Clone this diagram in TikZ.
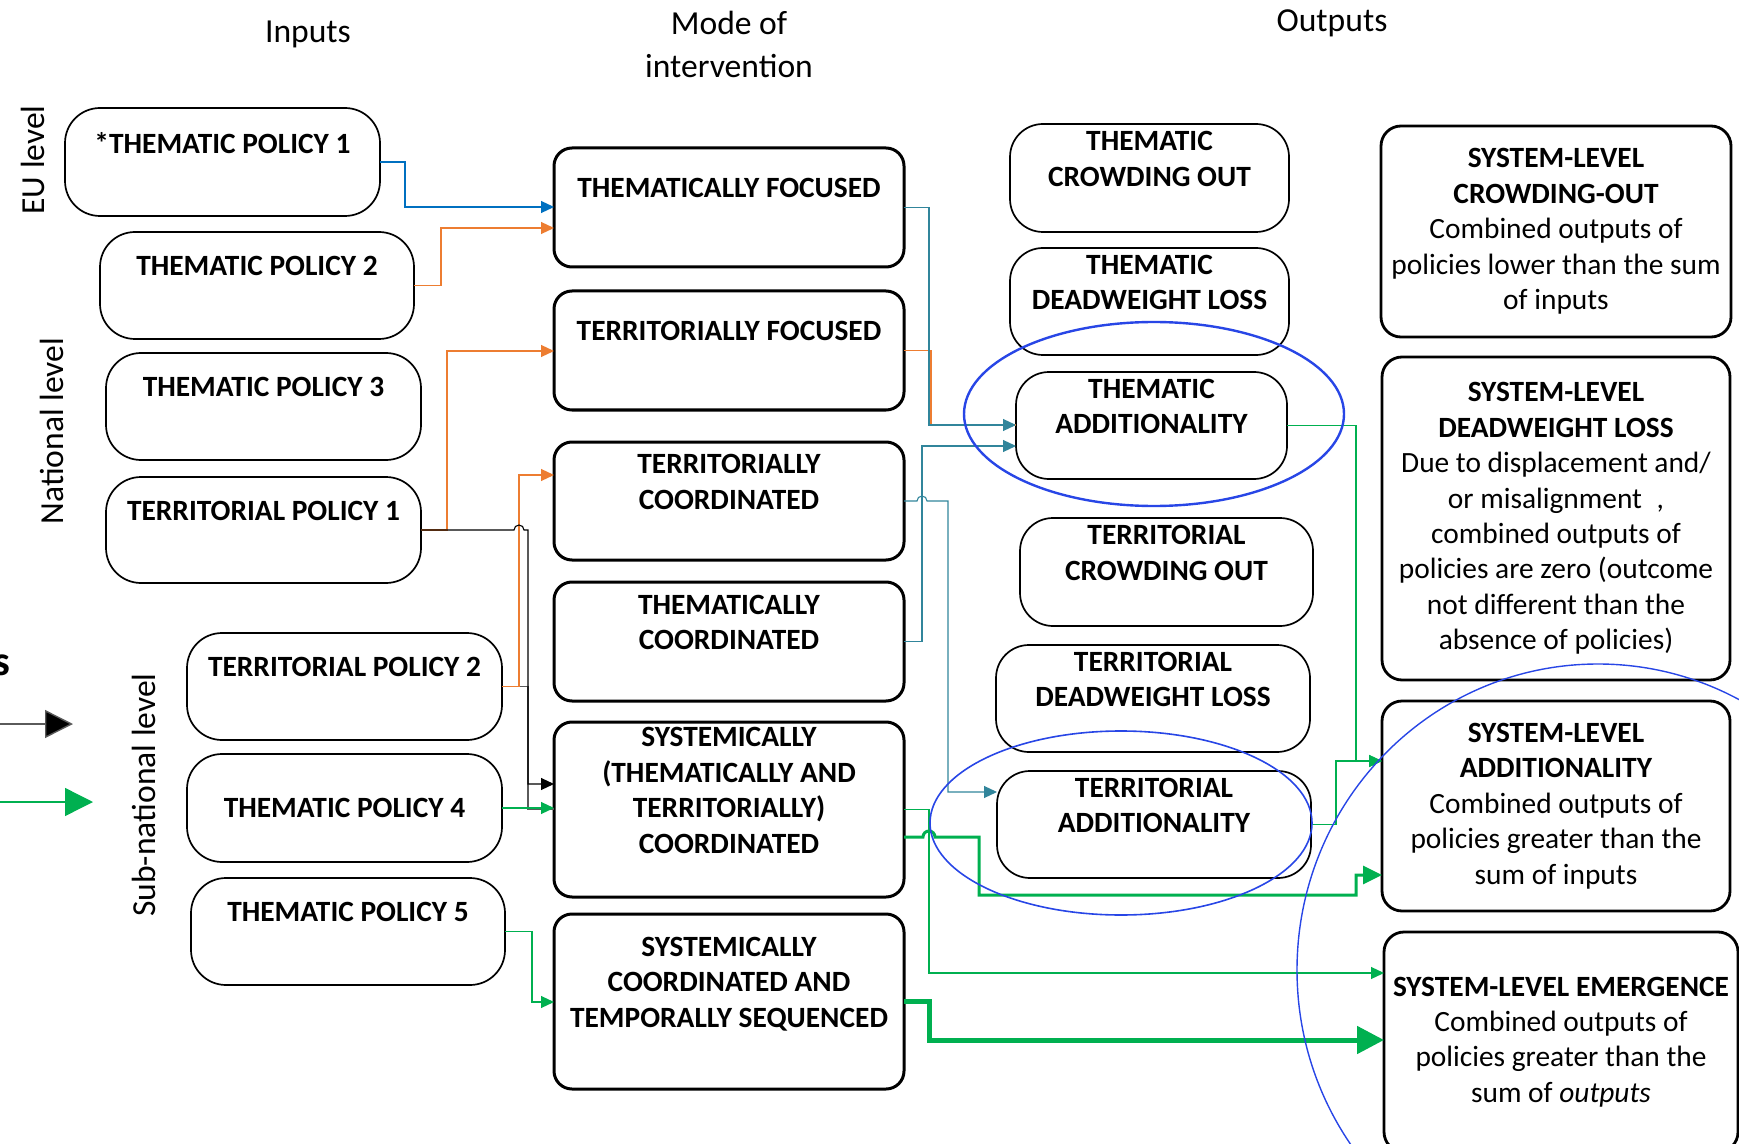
\documentclass[tikz,border=0pt]{standalone}
\usepackage{fontspec}
\setmainfont{Carlito}
\usetikzlibrary{arrows.meta}

\definecolor{linkblue}{RGB}{0,112,192}
\definecolor{linkorange}{RGB}{237,125,49}
\definecolor{linkteal}{RGB}{49,133,155}
\definecolor{linkgreen}{RGB}{0,176,80}
\definecolor{linkgray}{RGB}{90,90,90}
\definecolor{ringblue}{RGB}{40,70,230}

\newcommand\boxtext{\fontsize{14.7}{17.7}\selectfont}
\newcommand\headtext{\fontsize{16.8}{21.5}\selectfont}
% line strut: one baselineskip tall, sitting low so the text block hangs a little lower
\newcommand\boxstrut{\rule[-1.5pt]{0pt}{17.7pt}}
% \mkbox{style}{name}{x1}{y1}{x2}{y2}{text}: box given by its corners (pixel grid)
\newcommand\mkbox[7]{%
  \node[#1, minimum width={(#5-#3)*0.5pt}, minimum height={(#6-#4)*0.5pt}]
    (#2) at ({(#3+#5)/2},{(#4+#6)/2}) {#7};}

\begin{document}
\begin{tikzpicture}[x=0.5pt, y=-0.5pt,
  boxbase/.style={draw=black, fill=white, align=center, inner sep=0pt, outer sep=0pt,
    font=\boxtext, execute at begin node=\boxstrut, execute at end node=\boxstrut},
  inbox/.style={boxbase, line width=0.85pt, rounded corners=17.5pt, font=\boxtext\bfseries},
  modebox/.style={boxbase, line width=1.5pt, rounded corners=9pt, font=\boxtext\bfseries},
  outbox/.style={boxbase, line width=0.85pt, rounded corners=16.5pt, font=\boxtext\bfseries},
  sysbox/.style={boxbase, line width=1.4pt, rounded corners=10pt},
  head/.style={inner sep=0pt, font=\headtext, align=center},
  level/.style={inner sep=0pt, font=\headtext, rotate=90},
  thin/.style={line width=0.55pt, -{Triangle[length=6.5pt,width=6pt]}},
  plain/.style={line width=0.55pt},
  mid/.style={line width=1.5pt, -{Triangle[length=9.5pt,width=9pt]}},
  heavy/.style={line width=2.5pt, -{Triangle[length=13.5pt,width=13.5pt]}},
  ring/.style={draw=ringblue}
]
\useasboundingbox (0,0) rectangle (1739,1144);
\clip (0,0) rectangle (1739,1144);

% column headings
\node[head, anchor=base] (hin) at (308,42.5) {Inputs};
\node[head] (hmode) at (729,47) {\strut Mode of\\\strut intervention};
\node[head, anchor=base] (hout) at (1332,32) {Outputs};

% government levels
\node[level] (eu) at (33,160) {EU level};
\node[level] (nat) at (52,431) {National level};
\node[level] (sub) at (143.5,795) {Sub-national level};

% legend
\node[anchor=base east, inner sep=0pt, font=\bfseries\fontsize{21}{25}\selectfont] (legendword) at (11,675) {s};
\coordinate (lgk0) at (-5,724);
\coordinate (lgk1) at (73,724);
\coordinate (lgg0) at (-5,802);
\coordinate (lgg1) at (93,802);
\draw[line width=0.7pt, draw=linkgray, -{Triangle[length=14pt,width=14pt,fill=black]}] (lgk0) -- (lgk1);
\draw[line width=0.7pt, draw=linkgreen, -{Triangle[length=14pt,width=14pt]}] (lgg0) -- (lgg1);

% inputs
\mkbox{inbox}{tp1}{65}{108}{380}{216}{*THEMATIC POLICY 1\\}
\mkbox{inbox}{tp2}{100}{232}{414}{339}{THEMATIC POLICY 2\\}
\mkbox{inbox}{tp3}{106}{353}{421}{460}{THEMATIC POLICY 3\\}
\mkbox{inbox}{terp1}{106}{477}{421}{583}{TERRITORIAL POLICY 1\\}
\mkbox{inbox}{terp2}{187}{633}{502}{740}{TERRITORIAL POLICY 2\\}
\mkbox{inbox}{tp4}{187}{754}{502}{862}{\raisebox{2.7pt}{THEMATIC POLICY 4}}
\mkbox{inbox}{tp5}{191}{878}{505}{985}{THEMATIC POLICY 5\\}

% modes of intervention
\mkbox{modebox}{tf}{554}{148}{904}{267}{THEMATICALLY FOCUSED\\}
\mkbox{modebox}{terf}{554}{291}{904}{410}{TERRITORIALLY FOCUSED\\}
\mkbox{modebox}{tc}{554}{442}{904}{560}{TERRITORIALLY\\COORDINATED\\}
\mkbox{modebox}{thc}{554}{582}{904}{701}{THEMATICALLY\\COORDINATED\\}
\mkbox{modebox}{sys}{554}{722}{904}{897}{SYSTEMICALLY\\(THEMATICALLY AND\\TERRITORIALLY)\\COORDINATED\\}
\mkbox{modebox}{sts}{554}{914}{904}{1089}{SYSTEMICALLY\\COORDINATED AND\\TEMPORALLY SEQUENCED\\}

% policy-level outputs
\mkbox{outbox}{tco}{1010}{124}{1289}{232}{THEMATIC\\CROWDING OUT\\}
\mkbox{outbox}{tdl}{1010}{248}{1289}{355}{THEMATIC\\DEADWEIGHT LOSS\\}
\mkbox{outbox}{tad}{1016}{372}{1287}{479}{THEMATIC\\ADDITIONALITY\\}
\mkbox{outbox}{rco}{1020}{518}{1313}{626}{TERRITORIAL\\CROWDING OUT\\}
\mkbox{outbox}{rdl}{996}{645}{1310}{752}{TERRITORIAL\\DEADWEIGHT LOSS\\}
\mkbox{outbox}{rad}{997}{771}{1311}{878}{TERRITORIAL\\ADDITIONALITY\\}

% system-level outputs
\mkbox{sysbox}{sco}{1381}{126}{1731}{337}{\textbf{SYSTEM-LEVEL}\\\textbf{CROWDING-OUT}\\Combined outputs of\\policies lower than the sum\\of inputs}
\mkbox{sysbox}{sdl}{1382}{357}{1730}{680}{\textbf{SYSTEM-LEVEL}\\\textbf{DEADWEIGHT LOSS}\\Due to displacement and/\\or misalignment\enspace,\\combined outputs of\\policies are zero (outcome\\not different than the\\absence of policies)}
\mkbox{sysbox}{sad}{1382}{701}{1730}{911}{\textbf{SYSTEM-LEVEL}\\\textbf{ADDITIONALITY}\\Combined outputs of\\policies greater than the\\sum of inputs}
\mkbox{sysbox}{sem}{1384}{932}{1738}{1152}{\textbf{SYSTEM-LEVEL EMERGENCE}\\Combined outputs of\\policies greater than the\\sum of \textit{outputs}}

% inputs -> modes
\draw[thin, linkblue] (tp1.east) -| (405,207) -- (tf.west |- 0,207);
\draw[thin, linkorange] (tp2.east) -| (441,228) -- (tf.west |- 0,228);
\draw[thin, linkorange] (terp1.east) -| (447,351) -- (terf.west |- 0,351);
\draw[plain, linkgray] (terp2.east) -| (528,809) -- (sys.west |- 0,809);
\draw[thin, linkorange] (terp2.east) -| (519,475) -- (tc.west |- 0,475);
\draw[thin, black] (terp1.east) -- (514,530) arc[start angle=180, end angle=0, radius=2.5pt]
  -- (528,530) -- (528,784) -- (sys.west |- 0,784);
\draw[thin, linkgreen] (tp4.east) -- (sys.west |- tp4.east);
\draw[thin, linkgreen] (tp5.east) -| (532,1002) -- (sts.west |- 0,1002);

% modes -> policy-level outputs
\draw[plain, linkorange] (terf.east) -| (931,425) -- (tad.west |- 0,425);
\draw[thin, linkteal] (tf.east) -| (929,425) -- (tad.west |- 0,425);
\draw[thin, linkteal] (thc.east) -| (922,446) -- (tad.west |- 0,446);
\draw[thin, linkteal] (tc.east) -- (917,501) arc[start angle=180, end angle=0, radius=2.5pt]
  -- (948,501) -- (948,792) -- (rad.west |- 0,792);

% towards system-level outputs
\draw[thin, linkgreen] (sys.east) -| (929,973) -- (sem.west |- 0,973);
\draw[mid, linkgreen] (sys.east |- 0,837) -- (923,837) arc[start angle=180, end angle=0, radius=3pt]
  -- (979,837) -- (979,895) -- (1356,895) -- (1356,875) -- (sad.west |- 0,875);
\draw[thin, linkgreen] (tad.east) -| (1356,761) -- (sad.west |- 0,761);
\draw[thin, linkgreen] (rad.east) -| (1336,761) -- (sad.west |- 0,761);
\draw[heavy, linkgreen] (sts.east) -| (929,1040) -- (sem.west |- 0,1040);

% highlighted additionality outcomes
\draw[ring, line width=1.2pt] (1154,414) ellipse [x radius=95pt, y radius=46pt];
\draw[ring, line width=0.8pt] (1121,823) ellipse [x radius=95.5pt, y radius=46pt];
\draw[ring, line width=0.7pt] (1598,970) ellipse [x radius=150.5pt, y radius=153pt];
\end{tikzpicture}
\end{document}
